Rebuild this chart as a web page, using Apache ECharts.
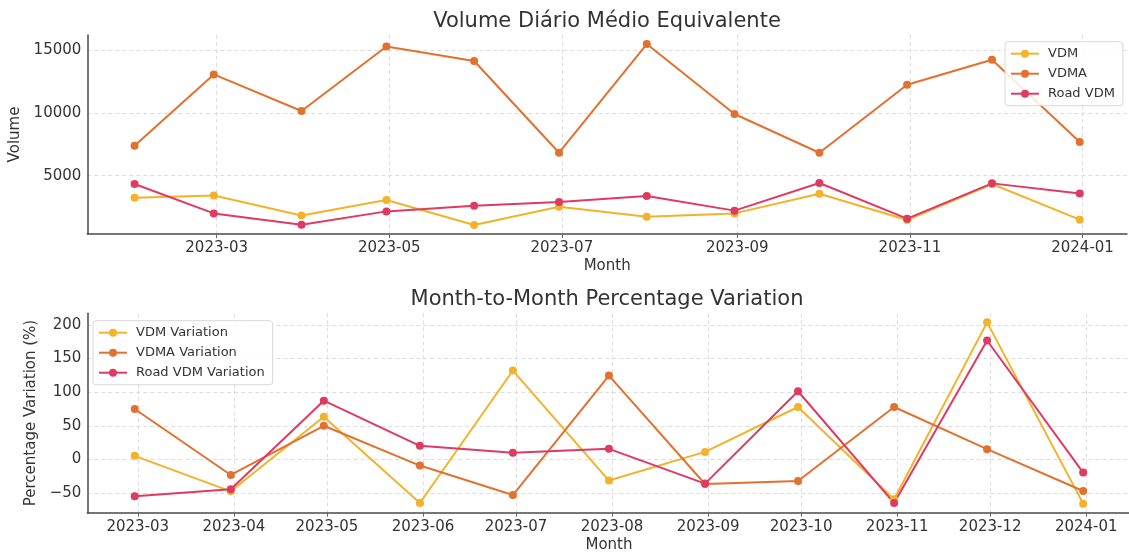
<!DOCTYPE html>
<html>
<head>
<meta charset="utf-8">
<script src="https://cdn.jsdelivr.net/npm/echarts@6/dist/echarts.min.js"></script>
<style>html,body{margin:0;padding:0;background:#fff}#c{width:1129px;height:553px}</style>
</head>
<body>
<div id="c"></div>
<script>
// ---- data ----
const months = ['2023-01-31','2023-02-28','2023-03-31','2023-04-30','2023-05-31','2023-06-30','2023-07-31','2023-08-31','2023-09-30','2023-10-31','2023-11-30','2023-12-31'];
const vdm     = [3250, 3430, 1840, 3070, 1080, 2530, 1740, 2000, 3570, 1475, 4340, 1500];
const vdma    = [7390, 13060, 10150, 15290, 14130, 6830, 15480, 9910, 6830, 12240, 14230, 7680];
const roadVdm = [4340, 2000, 1100, 2160, 2610, 2910, 3380, 2220, 4420, 1580, 4390, 3590];

const varMonths = ['2023-02-28','2023-03-31','2023-04-30','2023-05-31','2023-06-30','2023-07-31','2023-08-31','2023-09-30','2023-10-31','2023-11-30','2023-12-31'];
const vdmVar  = [5.4, -47.3, 63.5, -64.7, 132.2, -31.3, 11.3, 78.0, -59.2, 203.8, -65.6];
const vdmaVar = [75.0, -23.0, 50.1, -9.0, -52.8, 124.7, -36.4, -31.9, 78.0, 15.4, -46.8];
const roadVar = [-54.7, -44.3, 87.4, 20.3, 9.9, 15.8, -35.8, 101.4, -64.7, 176.9, -19.4];

const topXTicks = ['2023-03-01','2023-05-01','2023-07-01','2023-09-01','2023-11-01','2024-01-01'];
const bottomXTicks = ['2023-03-01','2023-04-01','2023-05-01','2023-06-01','2023-07-01','2023-08-01','2023-09-01','2023-10-01','2023-11-01','2023-12-01','2024-01-01'];
const topYTicks = [5000, 10000, 15000];
const bottomYTicks = [-50, 0, 50, 100, 150, 200];

// ---- helpers ----
const ts = s => Date.parse(s + 'T00:00:00Z');
const fmtMonth = v => { const d = new Date(v); return d.getUTCFullYear() + '-' + String(d.getUTCMonth() + 1).padStart(2, '0'); };
const fmtNum = v => String(Math.round(v)).replace('-', '\u2212');
function pad(arr, f) { const mn = Math.min(...arr), mx = Math.max(...arr), r = mx - mn; return [mn - f * r, mx + f * r]; }
const pairs = (xs, ys) => xs.map((x, i) => [ts(x), ys[i]]);

const C_VDM = '#F2B22A', C_VDMA = '#E2702F', C_ROAD = '#DE3A62';
const FONT = 'DejaVu Sans';
const txt = '#333333';

const topX = pad(months.map(ts), 0.05);
const botX = pad(varMonths.map(ts), 0.05);
const topY = pad([...vdm, ...vdma, ...roadVdm], 0.05);
const botY = pad([...vdmVar, ...vdmaVar, ...roadVar], 0.05);

function xAxis(gi, range, ticks) {
  return {
    type: 'value', gridIndex: gi, min: range[0], max: range[1],
    name: 'Month', nameLocation: 'middle', nameGap: 25,
    nameTextStyle: { fontFamily: FONT, fontSize: 15, color: txt },
    axisLine: { show: true, onZero: false, lineStyle: { color: '#4a4a4a', width: 1.5 } },
    axisTick: { show: true, length: 4, lineStyle: { color: '#666' }, customValues: ticks.map(ts) },
    axisLabel: { fontFamily: FONT, fontSize: 15, color: txt, margin: 7, customValues: ticks.map(ts), formatter: fmtMonth },
    splitLine: { show: true, lineStyle: { color: '#d4d4d4', width: 0.8, type: [4, 3] } }
  };
}
function yAxis(gi, range, ticks, name, gap) {
  return {
    type: 'value', gridIndex: gi, min: range[0], max: range[1],
    name: name, nameLocation: 'middle', nameGap: gap, nameRotate: 90,
    nameTextStyle: { fontFamily: FONT, fontSize: 15, color: txt },
    axisLine: { show: true, onZero: false, lineStyle: { color: '#4a4a4a', width: 1.5 } },
    axisTick: { show: false, customValues: ticks },
    axisLabel: { fontFamily: FONT, fontSize: 15, color: txt, margin: 6, customValues: ticks, formatter: fmtNum },
    splitLine: { show: true, lineStyle: { color: '#d4d4d4', width: 0.8, type: [4, 3] } }
  };
}
function line(name, color, data, xi) {
  return {
    type: 'line', name: name, xAxisIndex: xi, yAxisIndex: xi, data: data,
    symbol: 'circle', symbolSize: 8, showSymbol: true,
    lineStyle: { color: color, width: 2 }, itemStyle: { color: color },
    emphasis: { disabled: true }, animation: false, z: 3
  };
}
const legendCommon = {
  orient: 'vertical', itemWidth: 28, itemHeight: 10, itemGap: 6,
  padding: [5, 8, 5, 5], backgroundColor: 'rgba(255,255,255,0.85)',
  borderColor: '#d8d8d8', borderWidth: 1, borderRadius: 3,
  textStyle: { fontFamily: FONT, fontSize: 13, color: txt, padding: [0, 0, 0, 4], lineHeight: 14 }
};

const chart = echarts.init(document.getElementById('c'), null, { renderer: 'canvas' });
chart.setOption({
  animation: false,
  backgroundColor: '#ffffff',
  title: [
    { text: 'Volume Diário Médio Equivalente', left: 607, top: 11, textAlign: 'center', padding: 0,
      textStyle: { fontFamily: FONT, fontSize: 21, fontWeight: 'normal', color: txt } },
    { text: 'Month-to-Month Percentage Variation', left: 607, top: 289, textAlign: 'center', padding: 0,
      textStyle: { fontFamily: FONT, fontSize: 21, fontWeight: 'normal', color: txt } }
  ],
  grid: [
    { left: 87.3, right: 2, top: 35, height: 199, containLabel: false, outerBoundsMode: 'none' },
    { left: 87.3, right: -1.6, top: 313.3, height: 199.4, containLabel: false, outerBoundsMode: 'none' }
  ],
  legend: [
    Object.assign({}, legendCommon, { left: 1005, top: 41.7, data: ['VDM', 'VDMA', 'Road VDM'] }),
    Object.assign({}, legendCommon, { left: 93, top: 320.7, data: ['VDM Variation', 'VDMA Variation', 'Road VDM Variation'] })
  ],
  xAxis: [xAxis(0, topX, topXTicks), xAxis(1, botX, bottomXTicks)],
  yAxis: [yAxis(0, topY, topYTicks, 'Volume', 60), yAxis(1, botY, bottomYTicks, 'Percentage Variation (%)', 40)],
  series: [
    line('VDM', C_VDM, pairs(months, vdm), 0),
    line('VDMA', C_VDMA, pairs(months, vdma), 0),
    line('Road VDM', C_ROAD, pairs(months, roadVdm), 0),
    line('VDM Variation', C_VDM, pairs(varMonths, vdmVar), 1),
    line('VDMA Variation', C_VDMA, pairs(varMonths, vdmaVar), 1),
    line('Road VDM Variation', C_ROAD, pairs(varMonths, roadVar), 1)
  ]
});
</script>
</body>
</html>
